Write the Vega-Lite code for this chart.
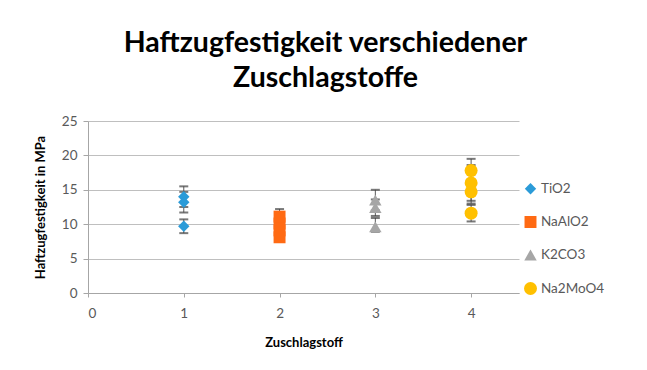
{
  "$schema": "https://vega.github.io/schema/vega-lite/v6.json",
  "width": 431,
  "height": 172,
  "autosize": {"type": "none"},
  "padding": {"left": 88, "top": 121, "right": 128, "bottom": 77},
  "background": "white",
  "title": {
    "text": ["Haftzugfestigkeit verschiedener", "Zuschlagstoffe"],
    "anchor": "middle",
    "dx": 22,
    "offset": 22,
    "fontSize": 28.5,
    "font": "Lato",
    "fontWeight": "bold",
    "color": "#000000",
    "lineHeight": 35
  },
  "data": {
    "values": [
      {"x": 1, "y": 14.0, "lo": 12.5, "hi": 15.5, "series": "TiO2"},
      {"x": 1, "y": 13.2, "lo": 11.7, "hi": 14.7, "series": "TiO2"},
      {"x": 1, "y": 9.7, "lo": 8.7, "hi": 10.7, "series": "TiO2"},
      {"x": 2, "y": 8.1, "lo": 7.6, "hi": 8.6, "series": "NaAlO2"},
      {"x": 2, "y": 9.1, "lo": 8.6, "hi": 9.6, "series": "NaAlO2"},
      {"x": 2, "y": 10.1, "lo": 9.6, "hi": 10.6, "series": "NaAlO2"},
      {"x": 2, "y": 11.1, "lo": 10.0, "hi": 12.2, "series": "NaAlO2"},
      {"x": 3, "y": 13.5, "lo": 12.0, "hi": 15.0, "series": "K2CO3"},
      {"x": 3, "y": 12.4, "lo": 11.2, "hi": 13.6, "series": "K2CO3"},
      {"x": 3, "y": 9.6, "lo": 8.9, "hi": 10.9, "series": "K2CO3"},
      {"x": 4, "y": 17.8, "lo": 16.1, "hi": 19.5, "series": "Na2MoO4"},
      {"x": 4, "y": 16.0, "lo": 13.4, "hi": 18.6, "series": "Na2MoO4"},
      {"x": 4, "y": 14.7, "lo": 13.0, "hi": 16.4, "series": "Na2MoO4"},
      {"x": 4, "y": 11.6, "lo": 10.4, "hi": 12.8, "series": "Na2MoO4"}
    ]
  },
  "encoding": {
    "x": {
      "field": "x",
      "type": "quantitative",
      "scale": {"domain": [0, 4.5], "nice": false},
      "axis": {
        "values": [0, 1, 2, 3, 4],
        "title": "Zuschlagstoff",
        "grid": false,
        "domainColor": "#A6A6A6",
        "tickColor": "#A6A6A6",
        "tickSize": 4,
        "labelFont": "Lato",
        "labelFontSize": 13.5,
        "labelColor": "#595959",
        "labelPadding": 9,
        "titleFont": "Lato",
        "titleFontSize": 13,
        "titleFontWeight": "bold",
        "titleColor": "#000000",
        "titlePadding": 17
      }
    },
    "y": {
      "field": "y",
      "type": "quantitative",
      "scale": {"domain": [0, 25], "nice": false},
      "axis": {
        "values": [0, 5, 10, 15, 20, 25],
        "title": "Haftzugfestigkeit in MPa",
        "grid": true,
        "gridColor": "#BFBFBF",
        "gridWidth": 1,
        "domainColor": "#A6A6A6",
        "tickColor": "#A6A6A6",
        "tickSize": 5,
        "labelFont": "Lato",
        "labelFontSize": 13.5,
        "labelColor": "#595959",
        "labelPadding": 6,
        "titleFont": "Lato",
        "titleFontSize": 13,
        "titleFontWeight": "bold",
        "titleColor": "#000000",
        "titlePadding": 14
      }
    }
  },
  "layer": [
    {
      "mark": {"type": "rule", "color": "#595959", "strokeWidth": 1},
      "encoding": {"y": {"field": "lo", "type": "quantitative"}, "y2": {"field": "hi"}}
    },
    {
      "mark": {"type": "tick", "color": "#404040", "orient": "horizontal", "size": 9, "thickness": 2},
      "encoding": {"y": {"field": "lo", "type": "quantitative"}}
    },
    {
      "mark": {"type": "tick", "color": "#404040", "orient": "horizontal", "size": 9, "thickness": 2},
      "encoding": {"y": {"field": "hi", "type": "quantitative"}}
    },
    {
      "mark": {"type": "point", "filled": true, "opacity": 1},
      "encoding": {
        "color": {
          "field": "series",
          "type": "nominal",
          "scale": {
            "domain": ["TiO2", "NaAlO2", "K2CO3", "Na2MoO4"],
            "range": ["#2B9BD8", "#FF6A13", "#A6A6A6", "#FFC000"]
          },
          "legend": {
            "orient": "none",
            "legendX": 435,
            "legendY": 61,
            "title": null,
            "labelFont": "Lato",
            "labelFontSize": 13.5,
            "labelColor": "#595959",
            "labelOffset": 3,
            "rowPadding": 19,
            "symbolSize": 55,
            "symbolOpacity": 1,
            "encode": {"symbols": {"update": {"size": {"value": 60}}}}
          }
        },
        "shape": {
          "field": "series",
          "type": "nominal",
          "scale": {
            "domain": ["TiO2", "NaAlO2", "K2CO3", "Na2MoO4"],
            "range": ["diamond", "square", "triangle-up", "circle"]
          },
          "legend": null
        },
        "size": {
          "field": "series",
          "type": "nominal",
          "scale": {
            "domain": ["TiO2", "NaAlO2", "K2CO3", "Na2MoO4"],
            "range": [130, 169, 140, 150]
          },
          "legend": null
        }
      }
    }
  ],
  "config": {"view": {"stroke": null}}
}
